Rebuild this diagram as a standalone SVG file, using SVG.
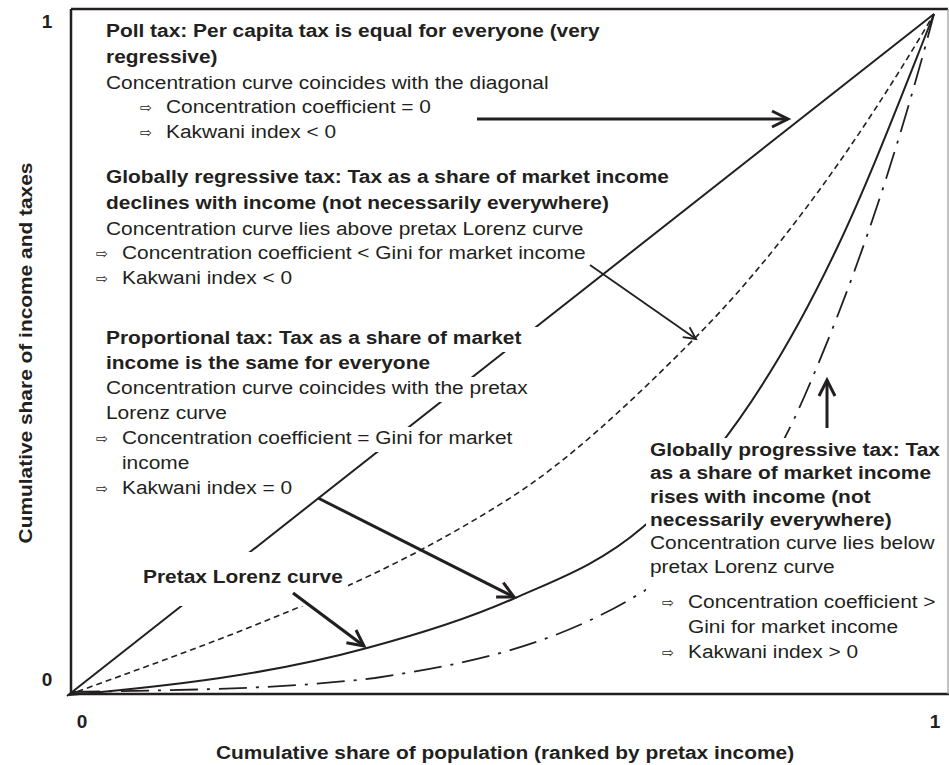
<svg xmlns="http://www.w3.org/2000/svg" width="949" height="765" viewBox="0 0 949 765">
<style>
  .b { font-family: "Liberation Sans", Arial, sans-serif; font-weight: bold; font-size: 19px; fill: #231f20; }
  .r { font-family: "Liberation Sans", Arial, sans-serif; font-size: 19px; fill: #231f20; }
  .ar { font-family: "DejaVu Sans", sans-serif; font-size: 13px; fill: #231f20; }
  .bg { fill: #ffffff; stroke: none; }
  .curve { fill: none; stroke: #231f20; }
  .frame { stroke: #231f20; stroke-width: 2.5; fill: none; }
  .arr { fill: none; stroke: #231f20; stroke-linecap: butt; }
</style>
<defs>
  <marker id="ah" markerUnits="userSpaceOnUse" orient="auto" refX="0" refY="0" markerWidth="40" markerHeight="40" overflow="visible">
    <path d="M-16,-8 L0,0 L-16,8" fill="none" stroke="#231f20" stroke-width="3"/>
  </marker>
  <marker id="ahs" markerUnits="userSpaceOnUse" orient="auto" refX="0" refY="0" markerWidth="40" markerHeight="40" overflow="visible">
    <path d="M-12,-6 L0,0 L-12,6" fill="none" stroke="#231f20" stroke-width="1.8"/>
  </marker>
</defs>
<rect x="0" y="0" width="949" height="765" fill="#ffffff"/>

<g id="frame">
  <path class="frame" d="M71,9 L948,9 M71,9 L71,694 M71,694 L949,694"/>
  <line x1="948" y1="9" x2="948" y2="694" stroke="#9a9a9a" stroke-width="1.2"/>
</g>

<g id="curves">
  <path id="diagonal" class="curve" stroke-width="2" d="M67,696 L934,14"/>
  <path id="regressive-curve" class="curve" stroke-width="1.6" stroke-dasharray="6 4" d="M68,695 C156,663 241,633 327,595 C387,569 447,538 507,500 C569,461 631,402 693,340 C773,260 854,150 934,14"/>
  <path id="lorenz-curve" class="curve" stroke-width="2" d="M69,695 C169,686 268,675 367,648 C416,635 466,620 515,598 C558,579 600,564 643,527 C708,472 772,385 837,248 C869,181 901,97 934,14"/>
  <path id="progressive-curve" class="curve" stroke-width="1.8" stroke-dasharray="28 9 3 9" d="M72,692 C172,690 273,690 375,678 C460,665 544,649 629,600 C688,565 746,531 805,395 C848,296 891,177 934,14"/>
</g>

<g id="backgrounds">
  <rect class="bg" x="103" y="166" width="572" height="26"/>
  <rect class="bg" x="103" y="192" width="509" height="25"/>
  <rect class="bg" x="103" y="217" width="483" height="25"/>
  <rect class="bg" x="92" y="242" width="500" height="25"/>
  <rect class="bg" x="92" y="267" width="203" height="25"/>

  <rect class="bg" x="103" y="327" width="437" height="25"/>
  <rect class="bg" x="103" y="352" width="332" height="25"/>
  <rect class="bg" x="103" y="377" width="429" height="25"/>
  <rect class="bg" x="103" y="402" width="127" height="25"/>
  <rect class="bg" x="92" y="427" width="424" height="25"/>
  <rect class="bg" x="118" y="452" width="74" height="25"/>
  <rect class="bg" x="92" y="477" width="205" height="25"/>

  <rect class="bg" x="138" y="552" width="210" height="54"/>
  <rect class="bg" x="646" y="438" width="301" height="226"/>
</g>

<g id="node-poll-tax" transform="translate(106 0) scale(1.1 1)">
  <text class="b" x="0" y="37">Poll tax: Per capita tax is equal for everyone (very</text>
  <text class="b" x="0" y="63">regressive)</text>
  <text class="r" x="0" y="89">Concentration curve coincides with the diagonal</text>
  <text class="ar" x="30.9" y="112">⇨</text>
  <text class="r" x="54.5" y="113">Concentration coefficient = 0</text>
  <text class="ar" x="30.9" y="137">⇨</text>
  <text class="r" x="54.5" y="138">Kakwani index &lt; 0</text>
</g>

<g id="node-regressive" transform="translate(106 0) scale(1.1 1)">
  <text class="b" x="0" y="183">Globally regressive tax: Tax as a share of market income</text>
  <text class="b" x="0" y="209">declines with income (not necessarily everywhere)</text>
  <text class="r" x="0" y="235">Concentration curve lies above pretax Lorenz curve</text>
  <text class="ar" x="-9.1" y="258">⇨</text>
  <text class="r" x="14.5" y="259">Concentration coefficient &lt; Gini for market income</text>
  <text class="ar" x="-9.1" y="283">⇨</text>
  <text class="r" x="14.5" y="284">Kakwani index &lt; 0</text>
</g>

<g id="node-proportional" transform="translate(106 0) scale(1.1 1)">
  <text class="b" x="0" y="344">Proportional tax: Tax as a share of market</text>
  <text class="b" x="0" y="369">income is the same for everyone</text>
  <text class="r" x="0" y="394">Concentration curve coincides with the pretax</text>
  <text class="r" x="0" y="419">Lorenz curve</text>
  <text class="ar" x="-9.1" y="443">⇨</text>
  <text class="r" x="14.5" y="444">Concentration coefficient = Gini for market</text>
  <text class="r" x="14.5" y="469">income</text>
  <text class="ar" x="-9.1" y="493">⇨</text>
  <text class="r" x="14.5" y="494">Kakwani index = 0</text>
</g>

<g id="node-progressive" transform="translate(650 0) scale(1.1 1)">
  <text class="b" x="0" y="456">Globally progressive tax: Tax</text>
  <text class="b" x="0" y="479">as a share of market income</text>
  <text class="b" x="0" y="503">rises with income (not</text>
  <text class="b" x="0" y="526">necessarily everywhere)</text>
  <text class="r" x="0" y="549">Concentration curve lies below</text>
  <text class="r" x="0" y="573">pretax Lorenz curve</text>
  <text class="ar" x="10.9" y="607">⇨</text>
  <text class="r" x="34.5" y="608">Concentration coefficient &gt;</text>
  <text class="r" x="34.5" y="633">Gini for market income</text>
  <text class="ar" x="10.9" y="657">⇨</text>
  <text class="r" x="34.5" y="658">Kakwani index &gt; 0</text>
</g>

<g id="node-pretax" transform="translate(143 0) scale(1.1 1)">
  <text class="b" x="0" y="583">Pretax Lorenz curve</text>
</g>

<g id="connectors">
  <line class="arr" stroke-width="3" x1="477" y1="119" x2="788" y2="119" marker-end="url(#ah)"/>
  <line class="arr" stroke-width="1.8" x1="590" y1="265" x2="696" y2="339" marker-end="url(#ahs)"/>
  <line class="arr" stroke-width="3" x1="318" y1="498" x2="514" y2="597" marker-end="url(#ah)"/>
  <line class="arr" stroke-width="3.2" x1="293" y1="593" x2="364" y2="646" marker-end="url(#ah)"/>
  <line class="arr" stroke-width="3" x1="827" y1="428" x2="827" y2="380" marker-end="url(#ah)"/>
</g>

<g id="axes-labels">
  <text class="b" x="47" y="28" text-anchor="middle">1</text>
  <text class="b" x="47" y="686" text-anchor="middle">0</text>
  <text class="b" x="82" y="728" text-anchor="middle">0</text>
  <text class="b" x="935" y="728" text-anchor="middle">1</text>
  <text class="b" transform="translate(505 759) scale(1.1 1)" text-anchor="middle">Cumulative share of population (ranked by pretax income)</text>
  <text class="b" transform="translate(32 353) rotate(-90) scale(1.1 1)" text-anchor="middle">Cumulative share of income and taxes</text>
</g>
</svg>
